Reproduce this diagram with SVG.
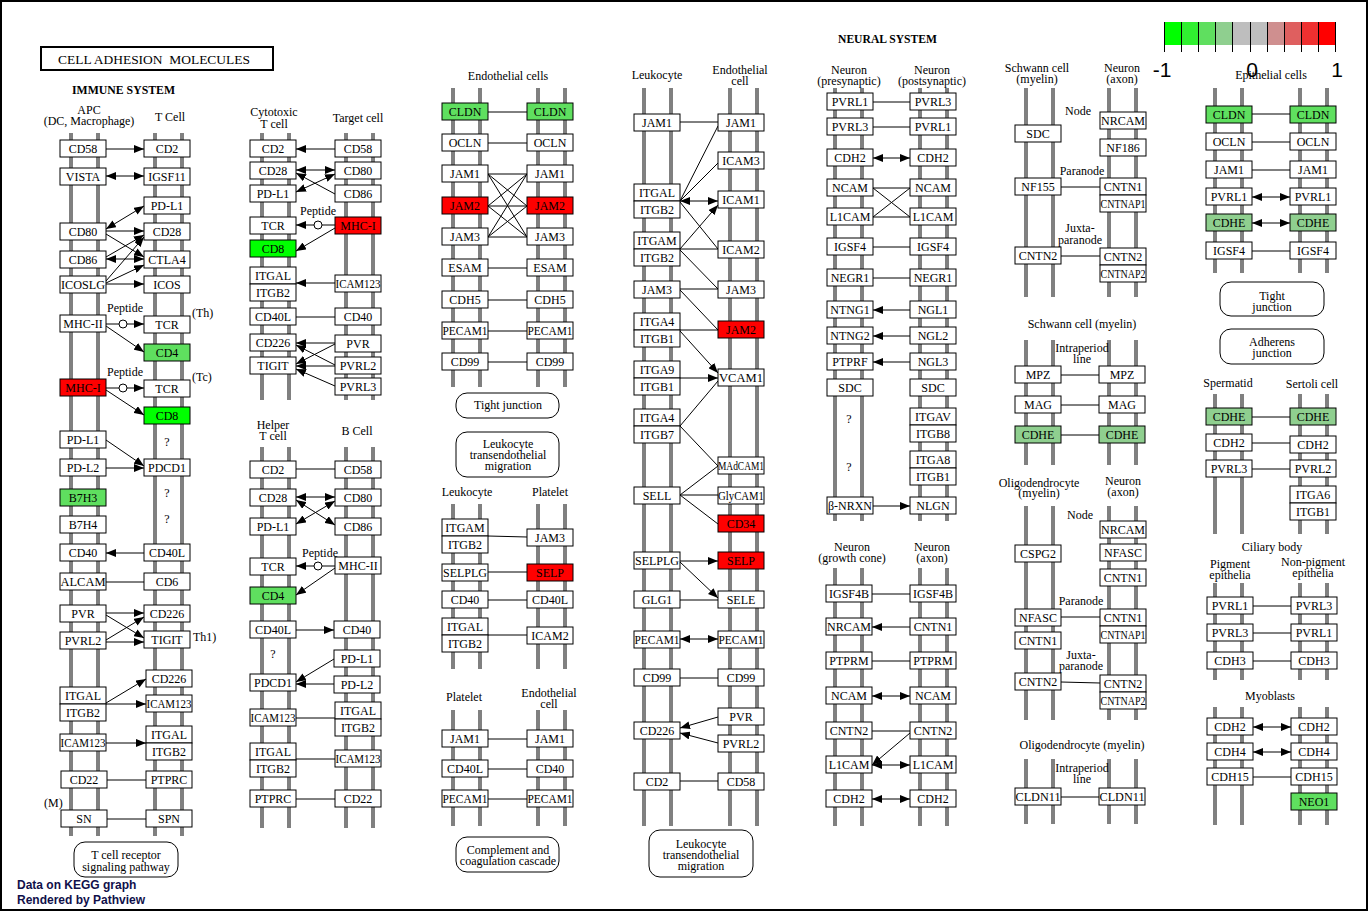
<svg xmlns="http://www.w3.org/2000/svg" width="1370" height="912" viewBox="0 0 1370 912">
<style>
.m{fill:#808080}
.b{fill:#fff;stroke:#000;stroke-width:1}
.g1{fill:#00ff00}.g3{fill:#5fdf5f}.g4{fill:#8fcf8f}.r{fill:#ff0000}
text{font-family:"Liberation Serif","Times New Roman",serif;font-size:12px;fill:#000}
.t{text-anchor:middle}
.c line{stroke:#000;stroke-width:1;fill:none}
.e{marker-end:url(#ah)}
.d{marker-start:url(#ah);marker-end:url(#ah)}
.pep{fill:#fff;stroke:#000;stroke-width:1}
.rb{fill:#fff;stroke:#000;stroke-width:1}
.bold{font-weight:bold}
.lg{font-family:"Liberation Sans",Arial,sans-serif;font-size:21px;text-anchor:middle}
.ft{font-family:"Liberation Sans",Arial,sans-serif;font-size:12px;font-weight:bold;fill:#10104a}
</style>
<defs>
<marker id="ah" viewBox="0 0 10 8" refX="10" refY="4" markerWidth="10" markerHeight="8" markerUnits="userSpaceOnUse" orient="auto-start-reverse"><path d="M0,0L10,4L0,8z" fill="#000"/></marker>
</defs>
<rect x="0" y="0" width="1370" height="912" fill="#fff"/>
<rect x="1" y="1" width="1366" height="909" fill="none" stroke="#000" stroke-width="2"/>

<g id="title">
<rect x="41" y="47" width="232" height="23" fill="#fff" stroke="#000" stroke-width="2"/>
<text x="58" y="64" style="font-size:13px;white-space:pre" textLength="192" lengthAdjust="spacingAndGlyphs">CELL ADHESION  MOLECULES</text>
<text class="bold" x="72" y="94" textLength="103" lengthAdjust="spacingAndGlyphs">IMMUNE SYSTEM</text>
<text class="bold" x="838" y="43" textLength="99" lengthAdjust="spacingAndGlyphs">NEURAL SYSTEM</text>
</g>

<g id="legend">
<rect x="1164" y="22" width="17.2" height="23" fill="#00ff00"/>
<rect x="1181.2" y="22" width="17.2" height="23" fill="#30f030"/>
<rect x="1198.4" y="22" width="17.2" height="23" fill="#5fdf5f"/>
<rect x="1215.6" y="22" width="17.2" height="23" fill="#8fcf8f"/>
<rect x="1232.8" y="22" width="17.2" height="23" fill="#bebebe"/>
<rect x="1250" y="22" width="17.2" height="23" fill="#bebebe"/>
<rect x="1267.2" y="22" width="17.2" height="23" fill="#cf8f8f"/>
<rect x="1284.4" y="22" width="17.2" height="23" fill="#df5f5f"/>
<rect x="1301.6" y="22" width="17.2" height="23" fill="#ef3030"/>
<rect x="1318.8" y="22" width="17.2" height="23" fill="#ff0000"/>
<g stroke="#000" stroke-width="1">
<line x1="1164.5" y1="22" x2="1164.5" y2="52"/><line x1="1181.5" y1="22" x2="1181.5" y2="52"/><line x1="1198.5" y1="22" x2="1198.5" y2="52"/><line x1="1215.5" y1="22" x2="1215.5" y2="52"/><line x1="1232.5" y1="22" x2="1232.5" y2="52"/><line x1="1250.5" y1="22" x2="1250.5" y2="52"/><line x1="1267.5" y1="22" x2="1267.5" y2="52"/><line x1="1284.5" y1="22" x2="1284.5" y2="52"/><line x1="1301.5" y1="22" x2="1301.5" y2="52"/><line x1="1318.5" y1="22" x2="1318.5" y2="52"/><line x1="1335.5" y1="22" x2="1335.5" y2="52"/>
</g>
<text class="lg" x="1162" y="77">-1</text>
<text class="lg" x="1252" y="77">0</text>
<text class="lg" x="1337" y="77">1</text>
</g>

<g id="membranes">
<rect class="m" x="69" y="133" width="4" height="703"/><rect class="m" x="96" y="133" width="4" height="703"/><rect class="m" x="153" y="133" width="4" height="703"/><rect class="m" x="180" y="133" width="4" height="703"/>
<rect class="m" x="260" y="133" width="4" height="267"/><rect class="m" x="287" y="133" width="4" height="267"/><rect class="m" x="344" y="133" width="4" height="267"/><rect class="m" x="371" y="133" width="4" height="267"/>
<rect class="m" x="260" y="447" width="4" height="381"/><rect class="m" x="287" y="447" width="4" height="381"/><rect class="m" x="344" y="447" width="4" height="381"/><rect class="m" x="371" y="447" width="4" height="381"/>
<rect class="m" x="451" y="88" width="4" height="299"/><rect class="m" x="478" y="88" width="4" height="299"/><rect class="m" x="536" y="88" width="4" height="299"/><rect class="m" x="563" y="88" width="4" height="299"/>
<rect class="m" x="451" y="504" width="4" height="165"/><rect class="m" x="478" y="504" width="4" height="165"/><rect class="m" x="536" y="504" width="4" height="165"/><rect class="m" x="563" y="504" width="4" height="165"/>
<rect class="m" x="451" y="710" width="4" height="116"/><rect class="m" x="478" y="710" width="4" height="116"/><rect class="m" x="536" y="710" width="4" height="116"/><rect class="m" x="563" y="710" width="4" height="116"/>
<rect class="m" x="642" y="88" width="4" height="738"/><rect class="m" x="669" y="88" width="4" height="738"/><rect class="m" x="728" y="88" width="4" height="738"/><rect class="m" x="755" y="88" width="4" height="738"/>
<rect class="m" x="833" y="88" width="4" height="433"/><rect class="m" x="860" y="88" width="4" height="433"/><rect class="m" x="918" y="88" width="4" height="433"/><rect class="m" x="945" y="88" width="4" height="433"/>
<rect class="m" x="833" y="568" width="4" height="258"/><rect class="m" x="860" y="568" width="4" height="258"/><rect class="m" x="918" y="568" width="4" height="258"/><rect class="m" x="945" y="568" width="4" height="258"/>
<rect class="m" x="1024" y="88" width="4" height="209"/><rect class="m" x="1051" y="88" width="4" height="209"/><rect class="m" x="1107" y="88" width="4" height="209"/><rect class="m" x="1134" y="88" width="4" height="209"/>
<rect class="m" x="1024" y="340" width="4" height="125"/><rect class="m" x="1051" y="340" width="4" height="125"/><rect class="m" x="1107" y="340" width="4" height="125"/><rect class="m" x="1134" y="340" width="4" height="125"/>
<rect class="m" x="1024" y="506" width="4" height="214"/><rect class="m" x="1051" y="506" width="4" height="214"/><rect class="m" x="1107" y="506" width="4" height="214"/><rect class="m" x="1134" y="506" width="4" height="214"/>
<rect class="m" x="1024" y="759" width="4" height="65"/><rect class="m" x="1051" y="759" width="4" height="65"/><rect class="m" x="1107" y="759" width="4" height="65"/><rect class="m" x="1134" y="759" width="4" height="65"/>
<rect class="m" x="1213" y="88" width="4" height="185"/><rect class="m" x="1240" y="88" width="4" height="185"/><rect class="m" x="1298" y="88" width="4" height="185"/><rect class="m" x="1325" y="88" width="4" height="185"/>
<rect class="m" x="1213" y="394" width="4" height="140"/><rect class="m" x="1240" y="394" width="4" height="140"/><rect class="m" x="1298" y="394" width="4" height="140"/><rect class="m" x="1325" y="394" width="4" height="140"/>
<rect class="m" x="1213" y="583" width="4" height="97"/><rect class="m" x="1240" y="583" width="4" height="97"/><rect class="m" x="1298" y="583" width="4" height="97"/><rect class="m" x="1325" y="583" width="4" height="97"/>
<rect class="m" x="1213" y="707" width="4" height="118"/><rect class="m" x="1240" y="707" width="4" height="118"/><rect class="m" x="1298" y="707" width="4" height="118"/><rect class="m" x="1325" y="707" width="4" height="118"/>
</g>

<g id="labels">
<text class="t" x="89" y="114">APC</text><text class="t" x="89" y="125">(DC, Macrophage)</text><text class="t" x="170" y="121">T Cell</text>
<text class="t" x="125" y="312">Peptide</text><text class="t" x="125" y="376">Peptide</text>
<text x="192" y="317">(Th)</text><text x="192" y="381">(Tc)</text><text x="193" y="641">Th1)</text><text x="44" y="807">(M)</text>
<text class="t" x="167" y="446">?</text><text class="t" x="167" y="497">?</text><text class="t" x="167" y="523">?</text>
<text class="t" x="274" y="116">Cytotoxic</text><text class="t" x="274" y="128">T cell</text><text class="t" x="358" y="122">Target cell</text>
<text class="t" x="318" y="215">Peptide</text>
<text class="t" x="273" y="429">Helper</text><text class="t" x="273" y="440">T cell</text><text class="t" x="357" y="435">B Cell</text>
<text class="t" x="320" y="557">Peptide</text><text class="t" x="273" y="658">?</text>
<text class="t" x="508" y="80">Endothelial cells</text>
<text class="t" x="467" y="496">Leukocyte</text><text class="t" x="550" y="496">Platelet</text>
<text class="t" x="464" y="701">Platelet</text><text class="t" x="549" y="697">Endothelial</text><text class="t" x="549" y="708">cell</text>
<text class="t" x="657" y="79">Leukocyte</text><text class="t" x="740" y="74">Endothelial</text><text class="t" x="740" y="85">cell</text>
<text class="t" x="849" y="74">Neuron</text><text class="t" x="849" y="85">(presynaptic)</text><text class="t" x="932" y="74">Neuron</text><text class="t" x="932" y="85">(postsynaptic)</text>
<text class="t" x="849" y="423">?</text><text class="t" x="849" y="471">?</text>
<text class="t" x="852" y="551">Neuron</text><text class="t" x="852" y="562">(growth cone)</text><text class="t" x="932" y="551">Neuron</text><text class="t" x="932" y="562">(axon)</text>
<text class="t" x="1037" y="72">Schwann cell</text><text class="t" x="1037" y="83">(myelin)</text><text class="t" x="1122" y="72">Neuron</text><text class="t" x="1122" y="83">(axon)</text>
<text class="t" x="1078" y="115">Node</text><text class="t" x="1082" y="175">Paranode</text><text class="t" x="1080" y="232">Juxta-</text><text class="t" x="1080" y="244">paranode</text>
<text class="t" x="1082" y="328">Schwann cell (myelin)</text><text class="t" x="1082" y="352">Intraperiod</text><text class="t" x="1082" y="363">line</text>
<text class="t" x="1039" y="487">Oligodendrocyte</text><text class="t" x="1039" y="497">(myelin)</text><text class="t" x="1123" y="485">Neuron</text><text class="t" x="1123" y="496">(axon)</text>
<text class="t" x="1080" y="519">Node</text><text class="t" x="1081" y="605">Paranode</text><text class="t" x="1081" y="659">Juxta-</text><text class="t" x="1081" y="670">paranode</text>
<text class="t" x="1082" y="749">Oligodendrocyte (myelin)</text><text class="t" x="1082" y="772">Intraperiod</text><text class="t" x="1082" y="783">line</text>
<text class="t" x="1271" y="79">Epithelial cells</text>
<text class="t" x="1228" y="387">Spermatid</text><text class="t" x="1312" y="388">Sertoli cell</text>
<text class="t" x="1272" y="551">Ciliary body</text><text class="t" x="1230" y="568">Pigment</text><text class="t" x="1230" y="579">epithelia</text><text class="t" x="1313" y="566">Non-pigment</text><text class="t" x="1313" y="577">epithelia</text>
<text class="t" x="1270" y="700">Myoblasts</text>
<text class="ft" x="17" y="889">Data on KEGG graph</text><text class="ft" x="17" y="904">Rendered by Pathview</text>
</g>

<g id="connectors" class="c">
<line class="e" x1="106" y1="149" x2="144" y2="149"/>
<line class="d" x1="106" y1="176" x2="144" y2="176"/>
<line class="d" x1="106" y1="229" x2="144" y2="206"/>
<line class="e" x1="106" y1="231" x2="144" y2="231"/>
<line class="e" x1="106" y1="234" x2="144" y2="257"/>
<line class="e" x1="106" y1="257" x2="144" y2="235"/>
<line class="d" x1="106" y1="259" x2="144" y2="259"/>
<line class="e" x1="106" y1="281" x2="144" y2="237"/>
<line class="e" x1="106" y1="283" x2="144" y2="265"/>
<line class="e" x1="106" y1="284" x2="144" y2="284"/>
<line x1="106" y1="324" x2="119" y2="324"/><circle class="pep" cx="123" cy="324" r="4"/><line class="e" x1="127" y1="324" x2="144" y2="324"/>
<line class="e" x1="106" y1="326" x2="144" y2="352"/>
<line x1="106" y1="388" x2="119" y2="388"/><circle class="pep" cx="123" cy="388" r="4"/><line class="e" x1="127" y1="388" x2="144" y2="388"/>
<line class="e" x1="106" y1="390" x2="144" y2="415"/>
<line class="e" x1="106" y1="440" x2="144" y2="466"/>
<line class="e" x1="106" y1="468" x2="144" y2="468"/>
<line class="e" x1="144" y1="553" x2="106" y2="553"/>
<line x1="106" y1="582" x2="144" y2="582"/>
<line class="e" x1="106" y1="613" x2="144" y2="613"/>
<line class="e" x1="106" y1="615" x2="144" y2="638"/>
<line class="e" x1="106" y1="640" x2="144" y2="617"/>
<line class="e" x1="106" y1="642" x2="144" y2="642"/>
<line class="e" x1="106" y1="703" x2="146" y2="679"/>
<line class="e" x1="106" y1="704" x2="146" y2="704"/>
<line class="e" x1="106" y1="743" x2="146" y2="743"/>
<line x1="107" y1="780" x2="146" y2="780"/>
<line x1="107" y1="819" x2="146" y2="819"/>

<line class="e" x1="335" y1="149" x2="296" y2="149"/>
<line class="d" x1="296" y1="170" x2="335" y2="170"/>
<line class="d" x1="296" y1="192" x2="335" y2="174"/>
<line class="e" x1="335" y1="194" x2="296" y2="173"/>
<line x1="335" y1="225" x2="322" y2="225"/><circle class="pep" cx="318" cy="225" r="4"/><line class="e" x1="314" y1="225" x2="296" y2="225"/>
<line class="e" x1="335" y1="228" x2="296" y2="251"/>
<line class="e" x1="335" y1="283" x2="296" y2="283"/>
<line x1="296" y1="317" x2="335" y2="317"/>
<line class="e" x1="335" y1="343" x2="296" y2="343"/>
<line class="e" x1="335" y1="344" x2="296" y2="364"/>
<line class="e" x1="335" y1="365" x2="296" y2="345"/>
<line class="e" x1="335" y1="366" x2="296" y2="366"/>
<line class="e" x1="335" y1="386" x2="296" y2="369"/>

<line x1="296" y1="469" x2="335" y2="469"/>
<line class="d" x1="296" y1="497" x2="335" y2="497"/>
<line class="d" x1="296" y1="500" x2="335" y2="525"/>
<line class="d" x1="296" y1="524" x2="335" y2="501"/>
<line x1="335" y1="566" x2="322" y2="566"/><circle class="pep" cx="318" cy="566" r="4"/><line class="e" x1="314" y1="566" x2="296" y2="566"/>
<line class="e" x1="335" y1="568" x2="296" y2="595"/>
<line class="e" x1="296" y1="630" x2="334" y2="630"/>
<line class="e" x1="334" y1="659" x2="296" y2="682"/>
<line class="e" x1="334" y1="684" x2="296" y2="684"/>
<line x1="296" y1="718" x2="335" y2="718"/>
<line x1="296" y1="759" x2="335" y2="759"/>
<line x1="296" y1="799" x2="335" y2="799"/>

<line x1="488" y1="112" x2="527" y2="112"/><line x1="488" y1="143" x2="527" y2="143"/><line x1="488" y1="174" x2="527" y2="174"/><line x1="488" y1="206" x2="527" y2="206"/><line x1="488" y1="237" x2="527" y2="237"/><line x1="488" y1="268" x2="527" y2="268"/><line x1="488" y1="300" x2="527" y2="300"/><line x1="488" y1="331" x2="527" y2="331"/><line x1="488" y1="362" x2="527" y2="362"/>
<line x1="488" y1="174" x2="527" y2="206"/><line x1="488" y1="174" x2="527" y2="237"/><line x1="488" y1="206" x2="527" y2="174"/><line x1="488" y1="206" x2="527" y2="237"/><line x1="488" y1="237" x2="527" y2="174"/><line x1="488" y1="237" x2="527" y2="206"/>
<line x1="488" y1="536" x2="527" y2="537"/><line x1="488" y1="572" x2="527" y2="572"/><line x1="488" y1="600" x2="527" y2="600"/><line x1="488" y1="635" x2="527" y2="635"/>
<line x1="488" y1="739" x2="527" y2="739"/><line x1="488" y1="769" x2="527" y2="769"/><line x1="488" y1="799" x2="527" y2="799"/>

<line x1="680" y1="122" x2="718" y2="122"/>
<line x1="680" y1="201" x2="718" y2="126"/>
<line x1="680" y1="201" x2="718" y2="163"/>
<line class="d" x1="680" y1="201" x2="718" y2="201"/>
<line x1="680" y1="202" x2="718" y2="249"/>
<line class="e" x1="680" y1="249" x2="718" y2="205"/>
<line x1="680" y1="249" x2="718" y2="249"/>
<line x1="680" y1="250" x2="718" y2="289"/>
<line x1="680" y1="289" x2="718" y2="289"/>
<line x1="680" y1="290" x2="718" y2="330"/>
<line x1="680" y1="330" x2="718" y2="330"/>
<line class="e" x1="680" y1="331" x2="718" y2="373"/>
<line class="e" x1="680" y1="378" x2="718" y2="378"/>
<line x1="680" y1="426" x2="718" y2="381"/>
<line x1="680" y1="426" x2="718" y2="466"/>
<line x1="680" y1="495" x2="718" y2="466"/>
<line x1="680" y1="495" x2="718" y2="495"/>
<line x1="680" y1="495" x2="718" y2="524"/>
<line class="e" x1="680" y1="561" x2="718" y2="561"/>
<line class="e" x1="680" y1="562" x2="718" y2="598"/>
<line x1="680" y1="600" x2="718" y2="600"/>
<line class="d" x1="680" y1="639" x2="718" y2="639"/>
<line x1="680" y1="678" x2="718" y2="678"/>
<line class="e" x1="718" y1="717" x2="680" y2="728"/>
<line class="e" x1="718" y1="743" x2="680" y2="733"/>
<line x1="680" y1="781" x2="718" y2="781"/>

<line x1="873" y1="102" x2="910" y2="102"/>
<line x1="873" y1="127" x2="910" y2="127"/>
<line class="d" x1="873" y1="158" x2="910" y2="158"/>
<line x1="873" y1="188" x2="910" y2="188"/>
<line x1="873" y1="217" x2="910" y2="217"/>
<line x1="873" y1="188" x2="910" y2="217"/>
<line x1="873" y1="217" x2="910" y2="188"/>
<line x1="873" y1="247" x2="910" y2="247"/>
<line x1="873" y1="278" x2="910" y2="278"/>
<line class="e" x1="910" y1="310" x2="873" y2="310"/>
<line class="e" x1="910" y1="336" x2="873" y2="336"/>
<line class="e" x1="910" y1="362" x2="873" y2="362"/>
<line class="e" x1="873" y1="506" x2="910" y2="506"/>
<line x1="872" y1="594" x2="910" y2="594"/>
<line class="e" x1="910" y1="627" x2="872" y2="627"/>
<line x1="872" y1="661" x2="910" y2="661"/>
<line class="d" x1="872" y1="696" x2="910" y2="696"/>
<line x1="872" y1="731" x2="910" y2="731"/>
<line class="e" x1="910" y1="733" x2="872" y2="765"/>
<line class="d" x1="872" y1="765" x2="910" y2="765"/>
<line class="d" x1="872" y1="799" x2="910" y2="799"/>

<line x1="1061" y1="187" x2="1100" y2="187"/>
<line x1="1061" y1="256" x2="1100" y2="256"/>
<line x1="1061" y1="375" x2="1099" y2="375"/>
<line x1="1061" y1="405" x2="1099" y2="405"/>
<line x1="1061" y1="435" x2="1099" y2="435"/>
<line x1="1061" y1="617" x2="1100" y2="617"/>
<line x1="1061" y1="682" x2="1100" y2="683"/>
<line x1="1061" y1="797" x2="1099" y2="797"/>

<line x1="1252" y1="114" x2="1290" y2="114"/>
<line x1="1252" y1="142" x2="1290" y2="142"/>
<line x1="1252" y1="170" x2="1290" y2="170"/>
<line class="d" x1="1252" y1="197" x2="1290" y2="197"/>
<line class="d" x1="1252" y1="223" x2="1290" y2="223"/>
<line x1="1252" y1="251" x2="1290" y2="251"/>
<line x1="1252" y1="417" x2="1290" y2="417"/>
<line x1="1252" y1="443" x2="1290" y2="443"/>
<line x1="1252" y1="469" x2="1290" y2="469"/>
<line x1="1253" y1="606" x2="1291" y2="606"/>
<line x1="1253" y1="633" x2="1291" y2="633"/>
<line x1="1253" y1="661" x2="1291" y2="661"/>
<line class="d" x1="1253" y1="727" x2="1291" y2="727"/>
<line class="d" x1="1253" y1="752" x2="1291" y2="752"/>
<line x1="1253" y1="777" x2="1291" y2="777"/>
</g>

<g id="pathways">
<g id="pw-tcr"><rect class="rb" x="74" y="842" width="104" height="35" rx="11"/><text class="t" x="126" y="859">T cell receptor</text><text class="t" x="126" y="871">signaling pathway</text></g>
<g id="pw-tj1"><rect class="rb" x="456" y="393" width="103" height="25" rx="11"/><text class="t" x="508" y="409">Tight junction</text></g>
<g id="pw-ltm1"><rect class="rb" x="456" y="432" width="103" height="45" rx="11"/><text class="t" x="508" y="448">Leukocyte</text><text class="t" x="508" y="459">transendothelial</text><text class="t" x="508" y="470">migration</text></g>
<g id="pw-ccc"><rect class="rb" x="456" y="837" width="103" height="35" rx="11"/><text class="t" x="508" y="854">Complement and</text><text class="t" x="508" y="865">coagulation cascade</text></g>
<g id="pw-ltm2"><rect class="rb" x="649" y="830" width="104" height="47" rx="11"/><text class="t" x="701" y="848">Leukocyte</text><text class="t" x="701" y="859">transendothelial</text><text class="t" x="701" y="870">migration</text></g>
<g id="pw-tj2"><rect class="rb" x="1220" y="282" width="104" height="34" rx="11"/><text class="t" x="1272" y="300">Tight</text><text class="t" x="1272" y="311">junction</text></g>
<g id="pw-aj"><rect class="rb" x="1220" y="329" width="104" height="35" rx="11"/><text class="t" x="1272" y="346">Adherens</text><text class="t" x="1272" y="357">junction</text></g>
</g>

<g id="nodes">
<g id="apc-cd58"><rect class="b" x="60" y="140" width="46" height="17"/><text class="t" x="83" y="153">CD58</text></g>
<g id="apc-vista"><rect class="b" x="60" y="168" width="46" height="17"/><text class="t" x="83" y="181">VISTA</text></g>
<g id="apc-cd80"><rect class="b" x="60" y="223" width="46" height="17"/><text class="t" x="83" y="236">CD80</text></g>
<g id="apc-cd86"><rect class="b" x="60" y="251" width="46" height="17"/><text class="t" x="83" y="264">CD86</text></g>
<g id="apc-icoslg"><rect class="b" x="60" y="276" width="46" height="17"/><text class="t" x="83" y="289" textLength="44" lengthAdjust="spacingAndGlyphs">ICOSLG</text></g>
<g id="apc-mhcii"><rect class="b" x="60" y="315" width="46" height="17"/><text class="t" x="83" y="328">MHC-II</text></g>
<g id="apc-mhci"><rect class="b r" x="60" y="379" width="46" height="17"/><text class="t" x="83" y="392">MHC-I</text></g>
<g id="apc-pdl1"><rect class="b" x="60" y="431" width="46" height="17"/><text class="t" x="83" y="444">PD-L1</text></g>
<g id="apc-pdl2"><rect class="b" x="60" y="459" width="46" height="17"/><text class="t" x="83" y="472">PD-L2</text></g>
<g id="apc-b7h3"><rect class="b g3" x="60" y="489" width="46" height="17"/><text class="t" x="83" y="502">B7H3</text></g>
<g id="apc-b7h4"><rect class="b" x="60" y="516" width="46" height="17"/><text class="t" x="83" y="529">B7H4</text></g>
<g id="apc-cd40"><rect class="b" x="60" y="544" width="46" height="17"/><text class="t" x="83" y="557">CD40</text></g>
<g id="apc-alcam"><rect class="b" x="60" y="573" width="46" height="17"/><text class="t" x="83" y="586" textLength="45" lengthAdjust="spacingAndGlyphs">ALCAM</text></g>
<g id="apc-pvr"><rect class="b" x="60" y="605" width="46" height="17"/><text class="t" x="83" y="618">PVR</text></g>
<g id="apc-pvrl2"><rect class="b" x="60" y="632" width="46" height="17"/><text class="t" x="83" y="645">PVRL2</text></g>
<g id="apc-itgal-itgb2"><rect class="b" x="60" y="687" width="46" height="17"/><rect class="b" x="60" y="704" width="46" height="17"/><text class="t" x="83" y="700">ITGAL</text><text class="t" x="83" y="717">ITGB2</text></g>
<g id="apc-icam123"><rect class="b" x="60" y="734" width="46" height="17"/><text class="t" x="83" y="747" textLength="45" lengthAdjust="spacingAndGlyphs">ICAM123</text></g>
<g id="apc-cd22"><rect class="b" x="61" y="771" width="46" height="17"/><text class="t" x="84" y="784">CD22</text></g>
<g id="apc-sn"><rect class="b" x="61" y="810" width="46" height="17"/><text class="t" x="84" y="823">SN</text></g>

<g id="t-cd2"><rect class="b" x="144" y="140" width="46" height="17"/><text class="t" x="167" y="153">CD2</text></g>
<g id="t-igsf11"><rect class="b" x="144" y="168" width="46" height="17"/><text class="t" x="167" y="181">IGSF11</text></g>
<g id="t-pdl1"><rect class="b" x="144" y="197" width="46" height="17"/><text class="t" x="167" y="210">PD-L1</text></g>
<g id="t-cd28"><rect class="b" x="144" y="223" width="46" height="17"/><text class="t" x="167" y="236">CD28</text></g>
<g id="t-ctla4"><rect class="b" x="144" y="251" width="46" height="17"/><text class="t" x="167" y="264">CTLA4</text></g>
<g id="t-icos"><rect class="b" x="144" y="276" width="46" height="17"/><text class="t" x="167" y="289">ICOS</text></g>
<g id="t-tcr1"><rect class="b" x="144" y="316" width="46" height="17"/><text class="t" x="167" y="329">TCR</text></g>
<g id="t-cd4"><rect class="b g3" x="144" y="344" width="46" height="17"/><text class="t" x="167" y="357">CD4</text></g>
<g id="t-tcr2"><rect class="b" x="144" y="380" width="46" height="17"/><text class="t" x="167" y="393">TCR</text></g>
<g id="t-cd8"><rect class="b g1" x="144" y="407" width="46" height="17"/><text class="t" x="167" y="420">CD8</text></g>
<g id="t-pdcd1"><rect class="b" x="144" y="459" width="46" height="17"/><text class="t" x="167" y="472">PDCD1</text></g>
<g id="t-cd40l"><rect class="b" x="144" y="544" width="46" height="17"/><text class="t" x="167" y="557">CD40L</text></g>
<g id="t-cd6"><rect class="b" x="144" y="573" width="46" height="17"/><text class="t" x="167" y="586">CD6</text></g>
<g id="t-cd226a"><rect class="b" x="144" y="605" width="46" height="17"/><text class="t" x="167" y="618">CD226</text></g>
<g id="t-tigit"><rect class="b" x="144" y="631" width="46" height="17"/><text class="t" x="167" y="644">TIGIT</text></g>
<g id="t-cd226b"><rect class="b" x="146" y="670" width="46" height="17"/><text class="t" x="169" y="683">CD226</text></g>
<g id="t-icam123"><rect class="b" x="146" y="695" width="46" height="17"/><text class="t" x="169" y="708" textLength="45" lengthAdjust="spacingAndGlyphs">ICAM123</text></g>
<g id="t-itgal-itgb2"><rect class="b" x="146" y="726" width="46" height="17"/><rect class="b" x="146" y="743" width="46" height="17"/><text class="t" x="169" y="739">ITGAL</text><text class="t" x="169" y="756">ITGB2</text></g>
<g id="t-ptprc"><rect class="b" x="146" y="771" width="46" height="17"/><text class="t" x="169" y="784">PTPRC</text></g>
<g id="t-spn"><rect class="b" x="146" y="810" width="46" height="17"/><text class="t" x="169" y="823">SPN</text></g>

<g id="ctl-cd2"><rect class="b" x="250" y="140" width="46" height="17"/><text class="t" x="273" y="153">CD2</text></g>
<g id="ctl-cd28"><rect class="b" x="250" y="162" width="46" height="17"/><text class="t" x="273" y="175">CD28</text></g>
<g id="ctl-pdl1"><rect class="b" x="250" y="185" width="46" height="17"/><text class="t" x="273" y="198">PD-L1</text></g>
<g id="ctl-tcr"><rect class="b" x="250" y="217" width="46" height="17"/><text class="t" x="273" y="230">TCR</text></g>
<g id="ctl-cd8"><rect class="b g1" x="250" y="240" width="46" height="17"/><text class="t" x="273" y="253">CD8</text></g>
<g id="ctl-itgal-itgb2"><rect class="b" x="250" y="267" width="46" height="17"/><rect class="b" x="250" y="284" width="46" height="17"/><text class="t" x="273" y="280">ITGAL</text><text class="t" x="273" y="297">ITGB2</text></g>
<g id="ctl-cd40l"><rect class="b" x="250" y="308" width="46" height="17"/><text class="t" x="273" y="321">CD40L</text></g>
<g id="ctl-cd226"><rect class="b" x="250" y="334" width="46" height="17"/><text class="t" x="273" y="347">CD226</text></g>
<g id="ctl-tigit"><rect class="b" x="250" y="357" width="46" height="17"/><text class="t" x="273" y="370">TIGIT</text></g>
<g id="tgt-cd58"><rect class="b" x="335" y="140" width="46" height="17"/><text class="t" x="358" y="153">CD58</text></g>
<g id="tgt-cd80"><rect class="b" x="335" y="162" width="46" height="17"/><text class="t" x="358" y="175">CD80</text></g>
<g id="tgt-cd86"><rect class="b" x="335" y="185" width="46" height="17"/><text class="t" x="358" y="198">CD86</text></g>
<g id="tgt-mhci"><rect class="b r" x="335" y="217" width="46" height="17"/><text class="t" x="358" y="230">MHC-I</text></g>
<g id="tgt-icam123"><rect class="b" x="335" y="275" width="46" height="17"/><text class="t" x="358" y="288" textLength="45" lengthAdjust="spacingAndGlyphs">ICAM123</text></g>
<g id="tgt-cd40"><rect class="b" x="335" y="308" width="46" height="17"/><text class="t" x="358" y="321">CD40</text></g>
<g id="tgt-pvr"><rect class="b" x="335" y="335" width="46" height="17"/><text class="t" x="358" y="348">PVR</text></g>
<g id="tgt-pvrl2"><rect class="b" x="335" y="357" width="46" height="17"/><text class="t" x="358" y="370">PVRL2</text></g>
<g id="tgt-pvrl3"><rect class="b" x="335" y="378" width="46" height="17"/><text class="t" x="358" y="391">PVRL3</text></g>

<g id="th-cd2"><rect class="b" x="250" y="461" width="46" height="17"/><text class="t" x="273" y="474">CD2</text></g>
<g id="th-cd28"><rect class="b" x="250" y="489" width="46" height="17"/><text class="t" x="273" y="502">CD28</text></g>
<g id="th-pdl1"><rect class="b" x="250" y="518" width="46" height="17"/><text class="t" x="273" y="531">PD-L1</text></g>
<g id="th-tcr"><rect class="b" x="250" y="558" width="46" height="17"/><text class="t" x="273" y="571">TCR</text></g>
<g id="th-cd4"><rect class="b g3" x="250" y="587" width="46" height="17"/><text class="t" x="273" y="600">CD4</text></g>
<g id="th-cd40l"><rect class="b" x="250" y="621" width="46" height="17"/><text class="t" x="273" y="634">CD40L</text></g>
<g id="th-pdcd1"><rect class="b" x="250" y="674" width="46" height="17"/><text class="t" x="273" y="687">PDCD1</text></g>
<g id="th-icam123"><rect class="b" x="250" y="709" width="46" height="17"/><text class="t" x="273" y="722" textLength="45" lengthAdjust="spacingAndGlyphs">ICAM123</text></g>
<g id="th-itgal-itgb2"><rect class="b" x="250" y="743" width="46" height="17"/><rect class="b" x="250" y="760" width="46" height="17"/><text class="t" x="273" y="756">ITGAL</text><text class="t" x="273" y="773">ITGB2</text></g>
<g id="th-ptprc"><rect class="b" x="250" y="790" width="46" height="17"/><text class="t" x="273" y="803">PTPRC</text></g>
<g id="bc-cd58"><rect class="b" x="335" y="461" width="46" height="17"/><text class="t" x="358" y="474">CD58</text></g>
<g id="bc-cd80"><rect class="b" x="335" y="489" width="46" height="17"/><text class="t" x="358" y="502">CD80</text></g>
<g id="bc-cd86"><rect class="b" x="335" y="518" width="46" height="17"/><text class="t" x="358" y="531">CD86</text></g>
<g id="bc-mhcii"><rect class="b" x="335" y="557" width="46" height="17"/><text class="t" x="358" y="570">MHC-II</text></g>
<g id="bc-cd40"><rect class="b" x="334" y="621" width="46" height="17"/><text class="t" x="357" y="634">CD40</text></g>
<g id="bc-pdl1"><rect class="b" x="334" y="650" width="46" height="17"/><text class="t" x="357" y="663">PD-L1</text></g>
<g id="bc-pdl2"><rect class="b" x="334" y="676" width="46" height="17"/><text class="t" x="357" y="689">PD-L2</text></g>
<g id="bc-itgal-itgb2"><rect class="b" x="335" y="702" width="46" height="17"/><rect class="b" x="335" y="719" width="46" height="17"/><text class="t" x="358" y="715">ITGAL</text><text class="t" x="358" y="732">ITGB2</text></g>
<g id="bc-icam123"><rect class="b" x="335" y="750" width="46" height="17"/><text class="t" x="358" y="763" textLength="45" lengthAdjust="spacingAndGlyphs">ICAM123</text></g>
<g id="bc-cd22"><rect class="b" x="335" y="790" width="46" height="17"/><text class="t" x="358" y="803">CD22</text></g>

<g id="ec1-cldn"><rect class="b g3" x="442" y="103" width="46" height="17"/><text class="t" x="465" y="116">CLDN</text></g>
<g id="ec1-ocln"><rect class="b" x="442" y="134" width="46" height="17"/><text class="t" x="465" y="147">OCLN</text></g>
<g id="ec1-jam1"><rect class="b" x="442" y="165" width="46" height="17"/><text class="t" x="465" y="178">JAM1</text></g>
<g id="ec1-jam2"><rect class="b r" x="442" y="197" width="46" height="17"/><text class="t" x="465" y="210">JAM2</text></g>
<g id="ec1-jam3"><rect class="b" x="442" y="228" width="46" height="17"/><text class="t" x="465" y="241">JAM3</text></g>
<g id="ec1-esam"><rect class="b" x="442" y="259" width="46" height="17"/><text class="t" x="465" y="272">ESAM</text></g>
<g id="ec1-cdh5"><rect class="b" x="442" y="291" width="46" height="17"/><text class="t" x="465" y="304">CDH5</text></g>
<g id="ec1-pecam1"><rect class="b" x="442" y="322" width="46" height="17"/><text class="t" x="465" y="335" textLength="45" lengthAdjust="spacingAndGlyphs">PECAM1</text></g>
<g id="ec1-cd99"><rect class="b" x="442" y="353" width="46" height="17"/><text class="t" x="465" y="366">CD99</text></g>
<g id="ec2-cldn"><rect class="b g3" x="527" y="103" width="46" height="17"/><text class="t" x="550" y="116">CLDN</text></g>
<g id="ec2-ocln"><rect class="b" x="527" y="134" width="46" height="17"/><text class="t" x="550" y="147">OCLN</text></g>
<g id="ec2-jam1"><rect class="b" x="527" y="165" width="46" height="17"/><text class="t" x="550" y="178">JAM1</text></g>
<g id="ec2-jam2"><rect class="b r" x="527" y="197" width="46" height="17"/><text class="t" x="550" y="210">JAM2</text></g>
<g id="ec2-jam3"><rect class="b" x="527" y="228" width="46" height="17"/><text class="t" x="550" y="241">JAM3</text></g>
<g id="ec2-esam"><rect class="b" x="527" y="259" width="46" height="17"/><text class="t" x="550" y="272">ESAM</text></g>
<g id="ec2-cdh5"><rect class="b" x="527" y="291" width="46" height="17"/><text class="t" x="550" y="304">CDH5</text></g>
<g id="ec2-pecam1"><rect class="b" x="527" y="322" width="46" height="17"/><text class="t" x="550" y="335" textLength="45" lengthAdjust="spacingAndGlyphs">PECAM1</text></g>
<g id="ec2-cd99"><rect class="b" x="527" y="353" width="46" height="17"/><text class="t" x="550" y="366">CD99</text></g>

<g id="lp-itgam-itgb2"><rect class="b" x="442" y="519" width="46" height="17"/><rect class="b" x="442" y="536" width="46" height="17"/><text class="t" x="465" y="532">ITGAM</text><text class="t" x="465" y="549">ITGB2</text></g>
<g id="lp-selplg"><rect class="b" x="442" y="564" width="46" height="17"/><text class="t" x="465" y="577" textLength="44" lengthAdjust="spacingAndGlyphs">SELPLG</text></g>
<g id="lp-cd40"><rect class="b" x="442" y="591" width="46" height="17"/><text class="t" x="465" y="604">CD40</text></g>
<g id="lp-itgal-itgb2"><rect class="b" x="442" y="618" width="46" height="17"/><rect class="b" x="442" y="635" width="46" height="17"/><text class="t" x="465" y="631">ITGAL</text><text class="t" x="465" y="648">ITGB2</text></g>
<g id="pl-jam3"><rect class="b" x="527" y="529" width="46" height="17"/><text class="t" x="550" y="542">JAM3</text></g>
<g id="pl-selp"><rect class="b r" x="527" y="564" width="46" height="17"/><text class="t" x="550" y="577">SELP</text></g>
<g id="pl-cd40l"><rect class="b" x="527" y="591" width="46" height="17"/><text class="t" x="550" y="604">CD40L</text></g>
<g id="pl-icam2"><rect class="b" x="527" y="627" width="46" height="17"/><text class="t" x="550" y="640">ICAM2</text></g>

<g id="pe-jam1"><rect class="b" x="442" y="730" width="46" height="17"/><text class="t" x="465" y="743">JAM1</text></g>
<g id="pe-cd40l"><rect class="b" x="442" y="760" width="46" height="17"/><text class="t" x="465" y="773">CD40L</text></g>
<g id="pe-pecam1"><rect class="b" x="442" y="790" width="46" height="17"/><text class="t" x="465" y="803" textLength="45" lengthAdjust="spacingAndGlyphs">PECAM1</text></g>
<g id="ee-jam1"><rect class="b" x="527" y="730" width="46" height="17"/><text class="t" x="550" y="743">JAM1</text></g>
<g id="ee-cd40"><rect class="b" x="527" y="760" width="46" height="17"/><text class="t" x="550" y="773">CD40</text></g>
<g id="ee-pecam1"><rect class="b" x="527" y="790" width="46" height="17"/><text class="t" x="550" y="803" textLength="45" lengthAdjust="spacingAndGlyphs">PECAM1</text></g>

<g id="lk-jam1"><rect class="b" x="634" y="114" width="46" height="17"/><text class="t" x="657" y="127">JAM1</text></g>
<g id="lk-itgal-itgb2"><rect class="b" x="634" y="184" width="46" height="17"/><rect class="b" x="634" y="201" width="46" height="17"/><text class="t" x="657" y="197">ITGAL</text><text class="t" x="657" y="214">ITGB2</text></g>
<g id="lk-itgam-itgb2"><rect class="b" x="634" y="232" width="46" height="17"/><rect class="b" x="634" y="249" width="46" height="17"/><text class="t" x="657" y="245">ITGAM</text><text class="t" x="657" y="262">ITGB2</text></g>
<g id="lk-jam3"><rect class="b" x="634" y="281" width="46" height="17"/><text class="t" x="657" y="294">JAM3</text></g>
<g id="lk-itga4-itgb1"><rect class="b" x="634" y="313" width="46" height="17"/><rect class="b" x="634" y="330" width="46" height="17"/><text class="t" x="657" y="326">ITGA4</text><text class="t" x="657" y="343">ITGB1</text></g>
<g id="lk-itga9-itgb1"><rect class="b" x="634" y="361" width="46" height="17"/><rect class="b" x="634" y="378" width="46" height="17"/><text class="t" x="657" y="374">ITGA9</text><text class="t" x="657" y="391">ITGB1</text></g>
<g id="lk-itga4-itgb7"><rect class="b" x="634" y="409" width="46" height="17"/><rect class="b" x="634" y="426" width="46" height="17"/><text class="t" x="657" y="422">ITGA4</text><text class="t" x="657" y="439">ITGB7</text></g>
<g id="lk-sell"><rect class="b" x="634" y="487" width="46" height="17"/><text class="t" x="657" y="500">SELL</text></g>
<g id="lk-selplg"><rect class="b" x="634" y="552" width="46" height="17"/><text class="t" x="657" y="565" textLength="44" lengthAdjust="spacingAndGlyphs">SELPLG</text></g>
<g id="lk-glg1"><rect class="b" x="634" y="591" width="46" height="17"/><text class="t" x="657" y="604">GLG1</text></g>
<g id="lk-pecam1"><rect class="b" x="634" y="631" width="46" height="17"/><text class="t" x="657" y="644" textLength="45" lengthAdjust="spacingAndGlyphs">PECAM1</text></g>
<g id="lk-cd99"><rect class="b" x="634" y="669" width="46" height="17"/><text class="t" x="657" y="682">CD99</text></g>
<g id="lk-cd226"><rect class="b" x="634" y="722" width="46" height="17"/><text class="t" x="657" y="735">CD226</text></g>
<g id="lk-cd2"><rect class="b" x="634" y="773" width="46" height="17"/><text class="t" x="657" y="786">CD2</text></g>
<g id="en-jam1"><rect class="b" x="718" y="114" width="46" height="17"/><text class="t" x="741" y="127">JAM1</text></g>
<g id="en-icam3"><rect class="b" x="718" y="152" width="46" height="17"/><text class="t" x="741" y="165">ICAM3</text></g>
<g id="en-icam1"><rect class="b" x="718" y="191" width="46" height="17"/><text class="t" x="741" y="204">ICAM1</text></g>
<g id="en-icam2"><rect class="b" x="718" y="241" width="46" height="17"/><text class="t" x="741" y="254">ICAM2</text></g>
<g id="en-jam3"><rect class="b" x="718" y="281" width="46" height="17"/><text class="t" x="741" y="294">JAM3</text></g>
<g id="en-jam2"><rect class="b r" x="718" y="321" width="46" height="17"/><text class="t" x="741" y="334">JAM2</text></g>
<g id="en-vcam1"><rect class="b" x="718" y="369" width="46" height="17"/><text class="t" x="741" y="382" textLength="44" lengthAdjust="spacingAndGlyphs">VCAM1</text></g>
<g id="en-madcam1"><rect class="b" x="718" y="457" width="46" height="17"/><text class="t" x="741" y="470" textLength="46" lengthAdjust="spacingAndGlyphs">MAdCAM1</text></g>
<g id="en-glycam1"><rect class="b" x="718" y="487" width="46" height="17"/><text class="t" x="741" y="500" textLength="46" lengthAdjust="spacingAndGlyphs">GlyCAM1</text></g>
<g id="en-cd34"><rect class="b r" x="718" y="515" width="46" height="17"/><text class="t" x="741" y="528">CD34</text></g>
<g id="en-selp"><rect class="b r" x="718" y="552" width="46" height="17"/><text class="t" x="741" y="565">SELP</text></g>
<g id="en-sele"><rect class="b" x="718" y="591" width="46" height="17"/><text class="t" x="741" y="604">SELE</text></g>
<g id="en-pecam1"><rect class="b" x="718" y="631" width="46" height="17"/><text class="t" x="741" y="644" textLength="45" lengthAdjust="spacingAndGlyphs">PECAM1</text></g>
<g id="en-cd99"><rect class="b" x="718" y="669" width="46" height="17"/><text class="t" x="741" y="682">CD99</text></g>
<g id="en-pvr"><rect class="b" x="718" y="708" width="46" height="17"/><text class="t" x="741" y="721">PVR</text></g>
<g id="en-pvrl2"><rect class="b" x="718" y="735" width="46" height="17"/><text class="t" x="741" y="748">PVRL2</text></g>
<g id="en-cd58"><rect class="b" x="718" y="773" width="46" height="17"/><text class="t" x="741" y="786">CD58</text></g>

<g id="pre-pvrl1"><rect class="b" x="827" y="93" width="46" height="17"/><text class="t" x="850" y="106">PVRL1</text></g>
<g id="pre-pvrl3"><rect class="b" x="827" y="118" width="46" height="17"/><text class="t" x="850" y="131">PVRL3</text></g>
<g id="pre-cdh2"><rect class="b" x="827" y="149" width="46" height="17"/><text class="t" x="850" y="162">CDH2</text></g>
<g id="pre-ncam"><rect class="b" x="827" y="179" width="46" height="17"/><text class="t" x="850" y="192">NCAM</text></g>
<g id="pre-l1cam"><rect class="b" x="827" y="208" width="46" height="17"/><text class="t" x="850" y="221">L1CAM</text></g>
<g id="pre-igsf4"><rect class="b" x="827" y="238" width="46" height="17"/><text class="t" x="850" y="251">IGSF4</text></g>
<g id="pre-negr1"><rect class="b" x="827" y="269" width="46" height="17"/><text class="t" x="850" y="282">NEGR1</text></g>
<g id="pre-ntng1"><rect class="b" x="827" y="301" width="46" height="17"/><text class="t" x="850" y="314">NTNG1</text></g>
<g id="pre-ntng2"><rect class="b" x="827" y="327" width="46" height="17"/><text class="t" x="850" y="340">NTNG2</text></g>
<g id="pre-ptprf"><rect class="b" x="827" y="353" width="46" height="17"/><text class="t" x="850" y="366">PTPRF</text></g>
<g id="pre-sdc"><rect class="b" x="827" y="379" width="46" height="17"/><text class="t" x="850" y="392">SDC</text></g>
<g id="pre-bnrxn"><rect class="b" x="827" y="497" width="46" height="17"/><text class="t" x="850" y="510" textLength="44" lengthAdjust="spacingAndGlyphs">β-NRXN</text></g>
<g id="post-pvrl3"><rect class="b" x="910" y="93" width="46" height="17"/><text class="t" x="933" y="106">PVRL3</text></g>
<g id="post-pvrl1"><rect class="b" x="910" y="118" width="46" height="17"/><text class="t" x="933" y="131">PVRL1</text></g>
<g id="post-cdh2"><rect class="b" x="910" y="149" width="46" height="17"/><text class="t" x="933" y="162">CDH2</text></g>
<g id="post-ncam"><rect class="b" x="910" y="179" width="46" height="17"/><text class="t" x="933" y="192">NCAM</text></g>
<g id="post-l1cam"><rect class="b" x="910" y="208" width="46" height="17"/><text class="t" x="933" y="221">L1CAM</text></g>
<g id="post-igsf4"><rect class="b" x="910" y="238" width="46" height="17"/><text class="t" x="933" y="251">IGSF4</text></g>
<g id="post-negr1"><rect class="b" x="910" y="269" width="46" height="17"/><text class="t" x="933" y="282">NEGR1</text></g>
<g id="post-ngl1"><rect class="b" x="910" y="301" width="46" height="17"/><text class="t" x="933" y="314">NGL1</text></g>
<g id="post-ngl2"><rect class="b" x="910" y="327" width="46" height="17"/><text class="t" x="933" y="340">NGL2</text></g>
<g id="post-ngl3"><rect class="b" x="910" y="353" width="46" height="17"/><text class="t" x="933" y="366">NGL3</text></g>
<g id="post-sdc"><rect class="b" x="910" y="379" width="46" height="17"/><text class="t" x="933" y="392">SDC</text></g>
<g id="post-itgav-itgb8"><rect class="b" x="910" y="408" width="46" height="17"/><rect class="b" x="910" y="425" width="46" height="17"/><text class="t" x="933" y="421">ITGAV</text><text class="t" x="933" y="438">ITGB8</text></g>
<g id="post-itga8-itgb1"><rect class="b" x="910" y="451" width="46" height="17"/><rect class="b" x="910" y="468" width="46" height="17"/><text class="t" x="933" y="464">ITGA8</text><text class="t" x="933" y="481">ITGB1</text></g>
<g id="post-nlgn"><rect class="b" x="910" y="497" width="46" height="17"/><text class="t" x="933" y="510">NLGN</text></g>

<g id="gc-igsf4b"><rect class="b" x="826" y="585" width="46" height="17"/><text class="t" x="849" y="598">IGSF4B</text></g>
<g id="gc-nrcam"><rect class="b" x="826" y="618" width="46" height="17"/><text class="t" x="849" y="631" textLength="44" lengthAdjust="spacingAndGlyphs">NRCAM</text></g>
<g id="gc-ptprm"><rect class="b" x="826" y="652" width="46" height="17"/><text class="t" x="849" y="665">PTPRM</text></g>
<g id="gc-ncam"><rect class="b" x="826" y="687" width="46" height="17"/><text class="t" x="849" y="700">NCAM</text></g>
<g id="gc-cntn2"><rect class="b" x="826" y="722" width="46" height="17"/><text class="t" x="849" y="735">CNTN2</text></g>
<g id="gc-l1cam"><rect class="b" x="826" y="756" width="46" height="17"/><text class="t" x="849" y="769">L1CAM</text></g>
<g id="gc-cdh2"><rect class="b" x="826" y="790" width="46" height="17"/><text class="t" x="849" y="803">CDH2</text></g>
<g id="ax-igsf4b"><rect class="b" x="910" y="585" width="46" height="17"/><text class="t" x="933" y="598">IGSF4B</text></g>
<g id="ax-cntn1"><rect class="b" x="910" y="618" width="46" height="17"/><text class="t" x="933" y="631">CNTN1</text></g>
<g id="ax-ptprm"><rect class="b" x="910" y="652" width="46" height="17"/><text class="t" x="933" y="665">PTPRM</text></g>
<g id="ax-ncam"><rect class="b" x="910" y="687" width="46" height="17"/><text class="t" x="933" y="700">NCAM</text></g>
<g id="ax-cntn2"><rect class="b" x="910" y="722" width="46" height="17"/><text class="t" x="933" y="735">CNTN2</text></g>
<g id="ax-l1cam"><rect class="b" x="910" y="756" width="46" height="17"/><text class="t" x="933" y="769">L1CAM</text></g>
<g id="ax-cdh2"><rect class="b" x="910" y="790" width="46" height="17"/><text class="t" x="933" y="803">CDH2</text></g>

<g id="sw-sdc"><rect class="b" x="1015" y="125" width="46" height="17"/><text class="t" x="1038" y="138">SDC</text></g>
<g id="sw-nf155"><rect class="b" x="1015" y="178" width="46" height="17"/><text class="t" x="1038" y="191">NF155</text></g>
<g id="sw-cntn2"><rect class="b" x="1015" y="247" width="46" height="17"/><text class="t" x="1038" y="260">CNTN2</text></g>
<g id="na1-nrcam"><rect class="b" x="1100" y="112" width="46" height="17"/><text class="t" x="1123" y="125" textLength="44" lengthAdjust="spacingAndGlyphs">NRCAM</text></g>
<g id="na1-nf186"><rect class="b" x="1100" y="139" width="46" height="17"/><text class="t" x="1123" y="152">NF186</text></g>
<g id="na1-cntn1-cntnap1"><rect class="b" x="1100" y="178" width="46" height="17"/><rect class="b" x="1100" y="195" width="46" height="17"/><text class="t" x="1123" y="191">CNTN1</text><text class="t" x="1123" y="208" textLength="45" lengthAdjust="spacingAndGlyphs">CNTNAP1</text></g>
<g id="na1-cntn2-cntnap2"><rect class="b" x="1100" y="248" width="46" height="17"/><rect class="b" x="1100" y="265" width="46" height="17"/><text class="t" x="1123" y="261">CNTN2</text><text class="t" x="1123" y="278" textLength="45" lengthAdjust="spacingAndGlyphs">CNTNAP2</text></g>

<g id="sw2-mpz"><rect class="b" x="1015" y="366" width="46" height="17"/><text class="t" x="1038" y="379">MPZ</text></g>
<g id="sw2-mag"><rect class="b" x="1015" y="396" width="46" height="17"/><text class="t" x="1038" y="409">MAG</text></g>
<g id="sw2-cdhe"><rect class="b g4" x="1015" y="426" width="46" height="17"/><text class="t" x="1038" y="439">CDHE</text></g>
<g id="sw3-mpz"><rect class="b" x="1099" y="366" width="46" height="17"/><text class="t" x="1122" y="379">MPZ</text></g>
<g id="sw3-mag"><rect class="b" x="1099" y="396" width="46" height="17"/><text class="t" x="1122" y="409">MAG</text></g>
<g id="sw3-cdhe"><rect class="b g4" x="1099" y="426" width="46" height="17"/><text class="t" x="1122" y="439">CDHE</text></g>

<g id="ol-cspg2"><rect class="b" x="1015" y="545" width="46" height="17"/><text class="t" x="1038" y="558">CSPG2</text></g>
<g id="ol-nfasc"><rect class="b" x="1015" y="609" width="46" height="17"/><text class="t" x="1038" y="622">NFASC</text></g>
<g id="ol-cntn1"><rect class="b" x="1015" y="632" width="46" height="17"/><text class="t" x="1038" y="645">CNTN1</text></g>
<g id="ol-cntn2"><rect class="b" x="1015" y="673" width="46" height="17"/><text class="t" x="1038" y="686">CNTN2</text></g>
<g id="na2-nrcam"><rect class="b" x="1100" y="521" width="46" height="17"/><text class="t" x="1123" y="534" textLength="44" lengthAdjust="spacingAndGlyphs">NRCAM</text></g>
<g id="na2-nfasc"><rect class="b" x="1100" y="544" width="46" height="17"/><text class="t" x="1123" y="557">NFASC</text></g>
<g id="na2-cntn1"><rect class="b" x="1100" y="569" width="46" height="17"/><text class="t" x="1123" y="582">CNTN1</text></g>
<g id="na2-cntn1-cntnap1"><rect class="b" x="1100" y="609" width="46" height="17"/><rect class="b" x="1100" y="626" width="46" height="17"/><text class="t" x="1123" y="622">CNTN1</text><text class="t" x="1123" y="639" textLength="45" lengthAdjust="spacingAndGlyphs">CNTNAP1</text></g>
<g id="na2-cntn2-cntnap2"><rect class="b" x="1100" y="675" width="46" height="17"/><rect class="b" x="1100" y="692" width="46" height="17"/><text class="t" x="1123" y="688">CNTN2</text><text class="t" x="1123" y="705" textLength="45" lengthAdjust="spacingAndGlyphs">CNTNAP2</text></g>
<g id="ol2-cldn11"><rect class="b" x="1015" y="788" width="46" height="17"/><text class="t" x="1038" y="801" textLength="45" lengthAdjust="spacingAndGlyphs">CLDN11</text></g>
<g id="ol3-cldn11"><rect class="b" x="1099" y="788" width="46" height="17"/><text class="t" x="1122" y="801" textLength="45" lengthAdjust="spacingAndGlyphs">CLDN11</text></g>

<g id="ep1-cldn"><rect class="b g3" x="1206" y="106" width="46" height="17"/><text class="t" x="1229" y="119">CLDN</text></g>
<g id="ep1-ocln"><rect class="b" x="1206" y="133" width="46" height="17"/><text class="t" x="1229" y="146">OCLN</text></g>
<g id="ep1-jam1"><rect class="b" x="1206" y="161" width="46" height="17"/><text class="t" x="1229" y="174">JAM1</text></g>
<g id="ep1-pvrl1"><rect class="b" x="1206" y="188" width="46" height="17"/><text class="t" x="1229" y="201">PVRL1</text></g>
<g id="ep1-cdhe"><rect class="b g4" x="1206" y="214" width="46" height="17"/><text class="t" x="1229" y="227">CDHE</text></g>
<g id="ep1-igsf4"><rect class="b" x="1206" y="242" width="46" height="17"/><text class="t" x="1229" y="255">IGSF4</text></g>
<g id="ep2-cldn"><rect class="b g3" x="1290" y="106" width="46" height="17"/><text class="t" x="1313" y="119">CLDN</text></g>
<g id="ep2-ocln"><rect class="b" x="1290" y="133" width="46" height="17"/><text class="t" x="1313" y="146">OCLN</text></g>
<g id="ep2-jam1"><rect class="b" x="1290" y="161" width="46" height="17"/><text class="t" x="1313" y="174">JAM1</text></g>
<g id="ep2-pvrl1"><rect class="b" x="1290" y="188" width="46" height="17"/><text class="t" x="1313" y="201">PVRL1</text></g>
<g id="ep2-cdhe"><rect class="b g4" x="1290" y="214" width="46" height="17"/><text class="t" x="1313" y="227">CDHE</text></g>
<g id="ep2-igsf4"><rect class="b" x="1290" y="242" width="46" height="17"/><text class="t" x="1313" y="255">IGSF4</text></g>

<g id="sp-cdhe"><rect class="b g4" x="1206" y="408" width="46" height="17"/><text class="t" x="1229" y="421">CDHE</text></g>
<g id="sp-cdh2"><rect class="b" x="1206" y="434" width="46" height="17"/><text class="t" x="1229" y="447">CDH2</text></g>
<g id="sp-pvrl3"><rect class="b" x="1206" y="460" width="46" height="17"/><text class="t" x="1229" y="473">PVRL3</text></g>
<g id="se-cdhe"><rect class="b g4" x="1290" y="408" width="46" height="17"/><text class="t" x="1313" y="421">CDHE</text></g>
<g id="se-cdh2"><rect class="b" x="1290" y="436" width="46" height="17"/><text class="t" x="1313" y="449">CDH2</text></g>
<g id="se-pvrl2"><rect class="b" x="1290" y="460" width="46" height="17"/><text class="t" x="1313" y="473">PVRL2</text></g>
<g id="se-itga6-itgb1"><rect class="b" x="1290" y="486" width="46" height="17"/><rect class="b" x="1290" y="503" width="46" height="17"/><text class="t" x="1313" y="499">ITGA6</text><text class="t" x="1313" y="516">ITGB1</text></g>

<g id="pg-pvrl1"><rect class="b" x="1207" y="597" width="46" height="17"/><text class="t" x="1230" y="610">PVRL1</text></g>
<g id="pg-pvrl3"><rect class="b" x="1207" y="624" width="46" height="17"/><text class="t" x="1230" y="637">PVRL3</text></g>
<g id="pg-cdh3"><rect class="b" x="1207" y="652" width="46" height="17"/><text class="t" x="1230" y="665">CDH3</text></g>
<g id="np-pvrl3"><rect class="b" x="1291" y="597" width="46" height="17"/><text class="t" x="1314" y="610">PVRL3</text></g>
<g id="np-pvrl1"><rect class="b" x="1291" y="624" width="46" height="17"/><text class="t" x="1314" y="637">PVRL1</text></g>
<g id="np-cdh3"><rect class="b" x="1291" y="652" width="46" height="17"/><text class="t" x="1314" y="665">CDH3</text></g>

<g id="my1-cdh2"><rect class="b" x="1207" y="718" width="46" height="17"/><text class="t" x="1230" y="731">CDH2</text></g>
<g id="my1-cdh4"><rect class="b" x="1207" y="743" width="46" height="17"/><text class="t" x="1230" y="756">CDH4</text></g>
<g id="my1-cdh15"><rect class="b" x="1207" y="768" width="46" height="17"/><text class="t" x="1230" y="781">CDH15</text></g>
<g id="my2-cdh2"><rect class="b" x="1291" y="718" width="46" height="17"/><text class="t" x="1314" y="731">CDH2</text></g>
<g id="my2-cdh4"><rect class="b" x="1291" y="743" width="46" height="17"/><text class="t" x="1314" y="756">CDH4</text></g>
<g id="my2-cdh15"><rect class="b" x="1291" y="768" width="46" height="17"/><text class="t" x="1314" y="781">CDH15</text></g>
<g id="my2-neo1"><rect class="b g3" x="1291" y="793" width="46" height="17"/><text class="t" x="1314" y="806">NEO1</text></g>
</g>
</svg>
